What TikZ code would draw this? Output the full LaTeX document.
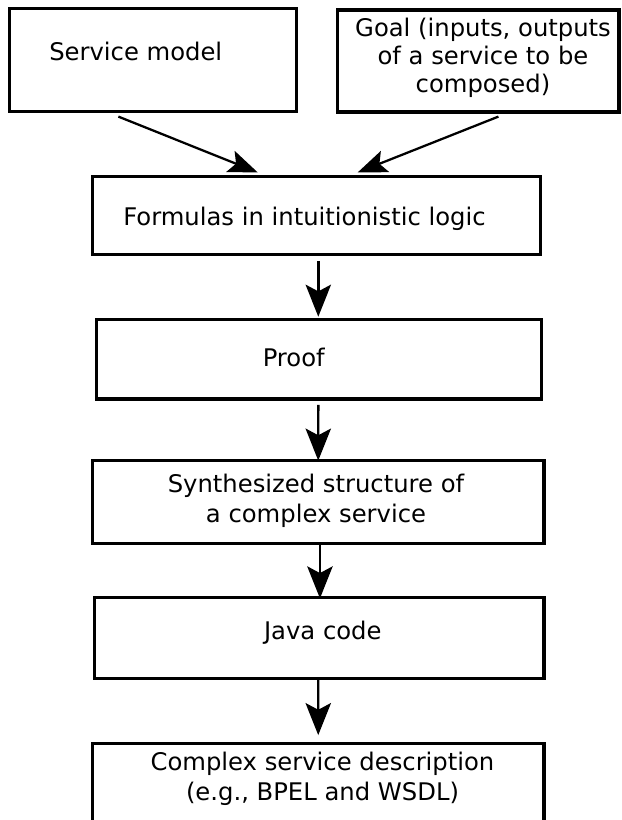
\documentclass[tikz,border=0pt]{standalone}
\usepackage{fontspec}
\setmainfont{DejaVu Sans}
\usetikzlibrary{arrows.meta,calc,fit}

\begin{document}
\begin{tikzpicture}[
  x=0.75pt, y=-0.75pt,
  box/.style={draw, line width=2.4pt, inner sep=0pt, rectangle},
  lbl/.style={inner sep=0pt, align=center, font=\fontsize{18.2}{22.5}\selectfont},
  arr/.style={line width=1.8pt, -{Stealth[length=24pt, width=19pt, inset=5pt]}},
  darr/.style={line width=1.7pt, -{Stealth[length=22pt, width=17pt, inset=4.5pt]}},
]
\clip (0,0) rectangle (621,820);

% boxes, given by their corners
\node[box, fit={(9.3,8.3) (296.5,111.5)}] (sm) {};
\node[box, fit={(337.7,10) (619,112)}] (goal) {};
\node[box, fit={(92.5,176.7) (540.7,254.3)}] (form) {};
\node[box, fit={(96.3,319.3) (541.7,399)}] (proof) {};
\node[box, fit={(92.3,460.7) (544,543.3)}] (synth) {};
\node[box, fit={(94.3,597.3) (544,678.3)}] (java) {};
\node[box, fit={(92.3,743.3) (544,840)}] (desc) {};

% labels (the base anchor of a multi-line label is its last line)
\node[lbl, anchor=base west] (smt) at (49,61) {Service model};
\node[lbl, anchor=base, font=\fontsize{18.2}{21}\selectfont] (goalt) at (483,92.5)
  {Goal (inputs, outputs\\of a service to be\\composed)};
\node[lbl, anchor=base] (formt) at (304.5,225) {Formulas in intuitionistic logic};
\node[lbl, anchor=base] (prooft) at (293.7,366.7) {Proof};
\node[lbl, anchor=base] (syntht) at (316,522.7) {Synthesized structure of\\a complex service};
\node[lbl, anchor=base] (javat) at (322.8,639.3) {Java code};
\node[lbl, anchor=base] (desct) at (322.5,800) {Complex service description\\(e.g., BPEL and WSDL)};

% connectors
\draw[darr] ($(sm.south west)+(110.7,3.5)$) -- ($(form.north west)+(166.8,-2.7)$);
\draw[darr] ($(goal.south west)+(162.3,3)$) -- ($(form.north west)+(266.8,-2.7)$);
\draw[arr] ($(form.south)+(1.7,5)$) -- ($(proof.north)+(-0.7,-1)$);
\draw[arr] ($(proof.south)+(-0.7,4.3)$) -- ($(synth.north)+(0.1,1.5)$);
\draw[arr] ($(synth.south)+(1.8,0)$) -- ($(java.north)+(0.8,2.7)$);
\draw[arr] ($(java.south)+(-0.9,0)$) -- ($(desc.north)+(0.1,-6.6)$);
\end{tikzpicture}
\end{document}
